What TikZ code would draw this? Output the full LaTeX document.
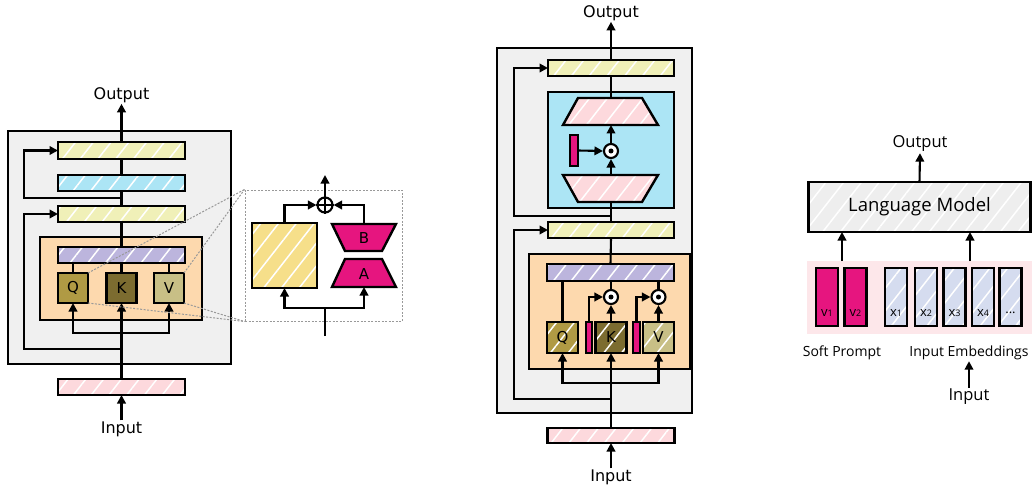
\documentclass[tikz,border=0pt]{standalone}
\usepackage{fontspec}
\setmainfont{DejaVu Sans}
\newfontfamily\osans{Open Sans}
\usetikzlibrary{arrows.meta,patterns.meta}
\definecolor{outerg}{HTML}{F0F0F0}
\definecolor{yelbar}{HTML}{F0F0B8}
\definecolor{bluebar}{HTML}{ACE5F5}
\definecolor{purbar}{HTML}{BCB5DD}
\definecolor{pinkbar}{HTML}{FDD9DD}
\definecolor{orbox}{HTML}{FDD9AE}
\definecolor{qcol}{HTML}{B09A44}
\definecolor{kcol}{HTML}{7C6C30}
\definecolor{vcol}{HTML}{C8BF86}
\definecolor{mag}{HTML}{E6157F}
\definecolor{ysq}{HTML}{F6DF8A}
\definecolor{lmg}{HTML}{EEEEEE}
\definecolor{xcol}{HTML}{D5DCEF}
\definecolor{pbg}{HTML}{FDE7EA}
\begin{document}
\begin{tikzpicture}[x=1pt,y=-1pt,
  bx/.style={draw=black, line width=2.4pt, inner sep=0pt, outer sep=0pt},
  hatch/.style={preaction={fill=#1}, pattern={Lines[angle=52,distance=14pt,line width=1.5pt]}, pattern color=white},
  ln/.style={line width=2.1pt},
  arr/.style={line width=2.1pt, -{Triangle[length=8.5pt,width=8.5pt]}},
  dotl/.style={draw=gray!80, line width=1pt, dash pattern=on 2pt off 1.5pt},
  txt/.style={font=\fontsize{16}{16}\selectfont, inner sep=1pt},
  qkv/.style={font=\fontsize{15}{15}\selectfont},
  rtxt/.style={font=\osans\fontsize{16.5}{17}\selectfont, inner sep=1pt},
  odot/.style={circle, draw=black, fill=white, line width=2.1pt, minimum size=14pt, inner sep=0pt},
  tok/.style={font=\osans\fontsize{13}{13}\selectfont}
]
\useasboundingbox (0,0) rectangle (1032,489);

% ===== Left: Transformer + LoRA =====
\node[bx, fill=outerg, minimum width=223pt, minimum height=233pt] (outerL) at (119.5,247.5) {};
\node[bx, hatch=yelbar, minimum width=127pt, minimum height=17pt] (y1L) at (121.5,150.5) {};
\node[bx, hatch=bluebar, minimum width=127pt, minimum height=16pt] (bL) at (121.5,183) {};
\node[bx, hatch=yelbar, minimum width=127pt, minimum height=16pt] (y2L) at (121.5,214) {};
\node[bx, fill=orbox, minimum width=162pt, minimum height=83pt] (orL) at (121,278.5) {};
\node[bx, hatch=purbar, minimum width=127pt, minimum height=16pt] (puL) at (121.5,255) {};
\node[bx, fill=qcol, minimum width=30pt, minimum height=30pt, qkv] (QL) at (73,288) {Q};
\node[bx, fill=kcol, minimum width=30pt, minimum height=30pt, qkv] (KL) at (121.5,288) {K};
\node[bx, fill=vcol, minimum width=30pt, minimum height=30pt, qkv] (VL) at (169,288) {V};
\node[bx, hatch=pinkbar, minimum width=127pt, minimum height=16pt] (inL) at (121.5,387) {};
\node[txt] (outLt) at (121.5,95) {Output};
\node[txt] (inLt) at (121.5,429) {Input};

\draw[arr] (y1L.north) -- (outLt.south);
\draw[ln] (bL.north) -- (y1L.south);
\draw[ln] (y2L.north) -- (bL.south);
\draw[ln] (puL.north) -- (y2L.south);
\draw[ln] (QL.north) -- (QL.north |- puL.south);
\draw[ln] (KL.north) -- (KL.north |- puL.south);
\draw[ln] (VL.north) -- (VL.north |- puL.south);
\draw[arr] (inL.north) -- (KL.south);
\coordinate (brL) at (121.5,333);
\draw[arr] (brL) -| (QL.south);
\draw[arr] (brL) -| (VL.south);
\coordinate (r1L) at (121.5,349);
\coordinate (rl1) at (24,349);
\draw[arr] (r1L) -- (rl1) |- (y2L.west);
\coordinate (r2L) at (121.5,198);
\coordinate (rl2) at (24,198);
\draw[arr] (r2L) -- (rl2) |- (y1L.west);
\draw[arr] (inLt.north) -- (inL.south);

% LoRA zoom box
\node[dotl, minimum width=157pt, minimum height=131pt, inner sep=0pt] (lbox) at (323.5,255.5) {};
\draw[dotl] (QL.north east) -- (lbox.north west);
\draw[dotl] (VL.north east) -- (lbox.north west);
\draw[dotl] (QL.south east) -- (lbox.south west);
\draw[dotl] (VL.south east) -- (lbox.south west);

\node[bx, hatch=ysq, minimum width=65pt, minimum height=65pt] (ysqn) at (284.5,255.5) {};
\draw[bx, fill=mag] (332,224) -- (396,224) -- (382,251) -- (345,251) -- cycle;
\node[qkv] (Blab) at (364,238) {B};
\draw[bx, fill=mag] (345,259) -- (382,259) -- (396,287) -- (332,287) -- cycle;
\node[qkv] (Alab) at (364,274) {A};
\coordinate (Bt) at (364,224);
\coordinate (Ab) at (364,287);
\node[circle, draw=black, fill=white, line width=2.1pt, minimum size=15pt, inner sep=0pt] (op) at (325,205) {};
\draw[line width=2.1pt] (op.north) -- (op.south) (op.west) -- (op.east);
\coordinate (opout) at (325,175);
\draw[arr] (op.north) -- (opout);
\draw[arr] (ysqn.north) |- (op.west);
\draw[arr] (Bt) |- (op.east);
\coordinate (lin) at (325,336);
\coordinate (lbr) at (325,308);
\draw[ln] (lin) -- (lbr);
\draw[arr] (lbr) -| (ysqn.south);
\draw[arr] (lbr) -| (Ab);

% ===== Middle: adapter / IA3 =====
\node[bx, fill=outerg, minimum width=195pt, minimum height=365pt] (outerM) at (594.5,230.5) {};
\node[bx, hatch=yelbar, minimum width=126pt, minimum height=16pt] (y1M) at (611,68) {};
\node[bx, fill=bluebar, minimum width=126pt, minimum height=116pt] (blM) at (611,150) {};
\draw[bx, hatch=pinkbar] (578,98) -- (642,98) -- (658,125) -- (563,125) -- cycle;
\draw[bx, hatch=pinkbar] (563,175) -- (658,175) -- (642,202) -- (578,202) -- cycle;
\coordinate (Ut) at (611,98);
\coordinate (Ub) at (611,125);
\coordinate (Lt) at (611,175);
\coordinate (Lb) at (611,202);
\node[odot] (odM) at (611,151) {};
\fill (odM) circle (2.5pt);
\node[bx, fill=mag, minimum width=8pt, minimum height=31pt] (mbM) at (574,150.5) {};
\node[bx, hatch=yelbar, minimum width=126pt, minimum height=16pt] (y2M) at (611,230) {};
\node[bx, fill=orbox, minimum width=161pt, minimum height=115pt] (orM) at (609.5,311.5) {};
\node[bx, hatch=purbar, minimum width=127pt, minimum height=17pt] (puM) at (610.5,272.5) {};
\node[bx, hatch=qcol, minimum width=31pt, minimum height=31pt, qkv] (QM) at (562.5,337.5) {Q};
\node[bx, fill=mag, minimum width=6.5pt, minimum height=31pt] (bar1) at (589,337.5) {};
\node[bx, hatch=kcol, minimum width=31pt, minimum height=31pt, qkv] (KM) at (611,337.5) {K};
\node[bx, fill=mag, minimum width=6.5pt, minimum height=31pt] (bar2) at (636.5,337.5) {};
\node[bx, hatch=vcol, minimum width=31pt, minimum height=31pt, qkv] (VM) at (658.5,337.5) {V};
\node[odot] (od1) at (611,297) {};
\fill (od1) circle (2.5pt);
\node[odot] (od2) at (658.5,297) {};
\fill (od2) circle (2.5pt);
\node[bx, hatch=pinkbar, minimum width=127pt, minimum height=15pt] (inM) at (611,435.5) {};
\node[txt] (outMt) at (611,13) {Output};
\node[txt] (inMt) at (611,477) {Input};

\draw[arr] (y1M.north) -- (outMt.south);
\draw[ln] (Ut) -- (y1M.south);
\draw[arr] (odM.north) -- (Ub);
\draw[arr] (Lt) -- (odM.south);
\draw[arr] (mbM.east) -- (odM.west);
\draw[ln] (y2M.north) -- (Lb);
\coordinate (rM2) at (611,216);
\coordinate (rlM2) at (514,216);
\draw[arr] (rM2) -- (rlM2) |- (y1M.west);
\draw[ln] (puM.north) -- (y2M.south);
\draw[ln] (QM.north) -- (QM.north |- puM.south);
\draw[arr] (KM.north) -- (od1.south);
\draw[ln] (od1.north) -- (od1.north |- puM.south);
\draw[arr] (VM.north) -- (od2.south);
\draw[ln] (od2.north) -- (od2.north |- puM.south);
\draw[arr] (bar1.north) |- (od1.west);
\draw[arr] (bar2.north) |- (od2.west);
\draw[arr] (inM.north) -- (KM.south);
\coordinate (brM) at (611,383);
\draw[arr] (brM) -| (QM.south);
\draw[arr] (brM) -| (VM.south);
\coordinate (rM1) at (611,399);
\coordinate (rlM1) at (514,399);
\draw[arr] (rM1) -- (rlM1) |- (y2M.west);
\draw[arr] (inMt.north) -- (inM.south);

% ===== Right: prompt tuning =====
\node[fill=pbg, minimum width=225pt, minimum height=73pt, inner sep=0pt] (pbgn) at (919.5,297.5) {};
\node[bx, hatch=lmg, minimum width=222pt, minimum height=50pt, font=\osans\fontsize{18.5}{19}\selectfont] (LM) at (919.5,207) {Language Model};
\node[bx, fill=mag, minimum width=22pt, minimum height=58pt] (v1) at (827,297) {};
\node[bx, fill=mag, minimum width=22pt, minimum height=58pt] (v2) at (855.5,297) {};
\node[bx, hatch=xcol, minimum width=22pt, minimum height=58pt] (x1) at (896,297) {};
\node[bx, hatch=xcol, minimum width=22pt, minimum height=58pt] (x2) at (926,297) {};
\node[bx, hatch=xcol, minimum width=22pt, minimum height=58pt] (x3) at (954.5,297) {};
\node[bx, hatch=xcol, minimum width=22pt, minimum height=58pt] (x4) at (983,297) {};
\node[bx, hatch=xcol, minimum width=22pt, minimum height=58pt] (x5) at (1010.5,297) {};
\node[tok] at (827,313) {v{\fontsize{9}{9}\selectfont 1}};
\node[tok] at (855.5,313) {v{\fontsize{9}{9}\selectfont 2}};
\node[tok] at (896,313) {x{\fontsize{9}{9}\selectfont 1}};
\node[tok] at (926,313) {x{\fontsize{9}{9}\selectfont 2}};
\node[tok] at (954.5,313) {x{\fontsize{9}{9}\selectfont 3}};
\node[tok] at (983,313) {x{\fontsize{9}{9}\selectfont 4}};
\node[tok] at (1010.5,313) {...};
\node[rtxt] (outRt) at (920,144) {Output};
\node[font=\osans\fontsize{14}{14}\selectfont] (spt) at (842,353) {Soft Prompt};
\node[font=\osans\fontsize{14}{14}\selectfont, inner sep=1pt] (iet) at (969,353) {Input Embeddings};
\node[rtxt] (inRt) at (969,397) {Input};
\coordinate (sp) at (842,261);
\coordinate (ie) at (970,261);
\draw[arr] (sp) -- (sp |- LM.south);
\draw[arr] (ie) -- (ie |- LM.south);
\draw[arr] (LM.north) -- (outRt.south);
\draw[arr] (inRt.north) -- (iet.south);
\end{tikzpicture}
\end{document}
